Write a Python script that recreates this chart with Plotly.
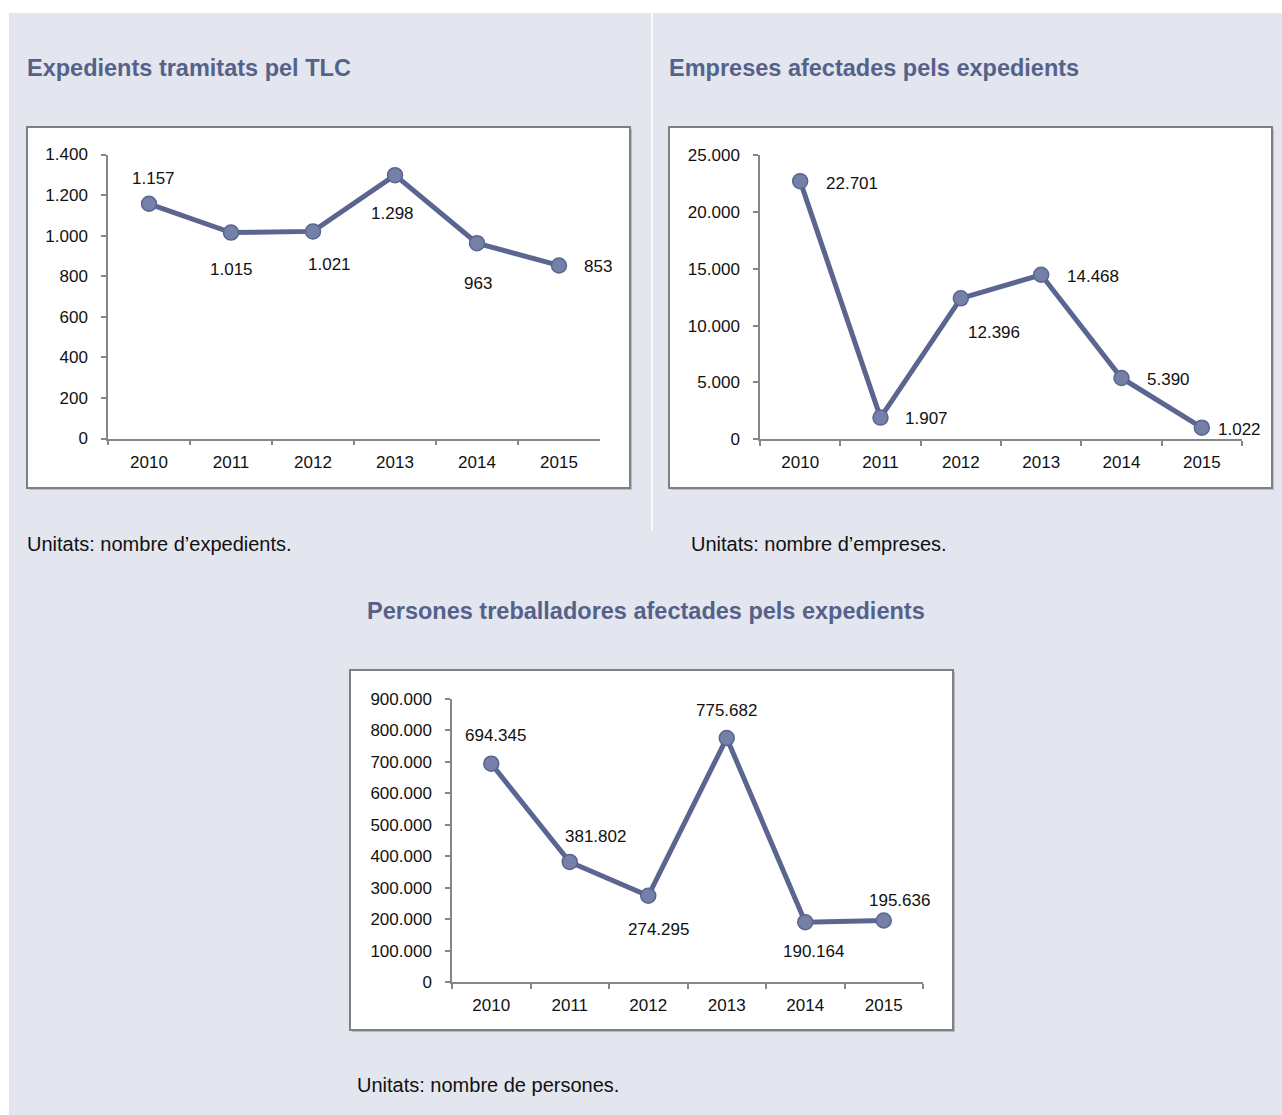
import plotly.graph_objects as go

W, H = 1282, 1115

years = ["2010", "2011", "2012", "2013", "2014", "2015"]
expedients = [1157, 1015, 1021, 1298, 963, 853]
empreses = [22701, 1907, 12396, 14468, 5390, 1022]
persones = [694345, 381802, 274295, 775682, 190164, 195636]

titles = ["Expedients tramitats pel TLC",
          "Empreses afectades pels expedients",
          "Persones treballadores afectades pels expedients"]
captions = ["Unitats: nombre d\u2019expedients.",
            "Unitats: nombre d\u2019empreses.",
            "Unitats: nombre de persones."]
y_max = [1400, 25000, 900000]
y_dtick = [200, 5000, 100000]

# label offsets (pixels) per point: (dx, dy) with dy positive = up
offsets = [
    [(4, 25), (0, -37), (16, -33), (-3, -38), (1, -40), (39, -1)],
    [(52, -2), (46, -1), (33, -34), (52, -2), (47, -2), (38, -2)],
    [(4, 28), (26, 25), (10, -34), (0, 28), (8, -29), (16, 20)],
]

# layout geometry in pixels
plot_px = [  # x0, x1, y_top(max), y_bottom(0)
    (108, 600, 154.5, 438.5),
    (760, 1242, 155, 439.3),
    (452, 923, 699, 982),
]
box_px = [(27, 127, 630, 488), (669, 127, 1272, 488), (350, 670, 953, 1030)]
title_px = [(25, 68, "left"), (667, 68, "left"), (646, 611, "center")]
caption_px = [(25, 544), (689, 544), (355, 1085)]

BG = "#E3E6EE"
TITLE_C = "#56618A"
LINE_C = "#5A6590"
MARK_C = "#7480A8"
AXIS_C = "#868686"
FONT = "Liberation Sans"

def px(x):
    return x / W

def py(y):
    return 1 - y / H

fig = go.Figure()
shapes = []
annotations = []

# white strips and divider
shapes.append(dict(type="rect", xref="paper", yref="paper", x0=0, x1=1, y0=py(13), y1=1,
                   fillcolor="white", line=dict(width=0), layer="below"))
shapes.append(dict(type="rect", xref="paper", yref="paper", x0=0, x1=px(9), y0=0, y1=1,
                   fillcolor="white", line=dict(width=0), layer="below"))
shapes.append(dict(type="line", xref="paper", yref="paper", x0=px(652), x1=px(652),
                   y0=py(13), y1=py(531), line=dict(color="white", width=1.5), layer="below"))

series = [expedients, empreses, persones]
for i in range(3):
    xa = "x" if i == 0 else f"x{i+1}"
    ya = "y" if i == 0 else f"y{i+1}"
    bx0, by0, bx1, by1 = box_px[i]
    shapes.append(dict(type="rect", xref="paper", yref="paper",
                       x0=px(bx0 + 2), x1=px(bx1 + 2), y0=py(by1 + 2), y1=py(by0 + 2),
                       fillcolor="#B9BCC4", line=dict(width=0), layer="below"))
    shapes.append(dict(type="rect", xref="paper", yref="paper",
                       x0=px(bx0), x1=px(bx1), y0=py(by1), y1=py(by0),
                       fillcolor="white", line=dict(color="#808080", width=2), layer="below"))

    vals = series[i]
    fig.add_trace(go.Scatter(
        x=years, y=vals, xaxis=xa, yaxis=ya, mode="lines+markers",
        line=dict(color=LINE_C, width=5),
        marker=dict(size=15, color=MARK_C, line=dict(color=LINE_C, width=1.5)),
        showlegend=False, hoverinfo="skip"))

    for j, v in enumerate(vals):
        dx, dy = offsets[i][j]
        annotations.append(dict(
            x=j, y=v, xref=xa, yref=ya, text=f"{v:,}".replace(",", "."),
            showarrow=False, xshift=dx, yshift=dy,
            font=dict(family=FONT, size=17, color="#111111")))

    x0, x1, ytop, ybot = plot_px[i]
    axkey = "xaxis" if i == 0 else f"xaxis{i+1}"
    aykey = "yaxis" if i == 0 else f"yaxis{i+1}"
    fig.update_layout(**{
        axkey: dict(domain=[px(x0), px(x1)], anchor=ya, type="category",
                    range=[-0.5, 5.5], tickson="boundaries", ticks="outside",
                    ticklen=5, tickcolor=AXIS_C, tickwidth=1.5,
                    showline=True, linecolor=AXIS_C, linewidth=1.5,
                    showgrid=False, zeroline=False, ticklabelstandoff=7,
                    automargin=False,
                    tickfont=dict(family=FONT, size=17, color="#111111"),
                    fixedrange=True),
        aykey: dict(domain=[py(ybot), py(ytop)], anchor=xa,
                    range=[0, y_max[i]], dtick=y_dtick[i], tick0=0,
                    tickformat=",d", ticks="outside", ticklen=5,
                    tickcolor=AXIS_C, tickwidth=1.5,
                    showline=True, linecolor=AXIS_C, linewidth=1.5,
                    showgrid=False, zeroline=False, ticklabelstandoff=10,
                    automargin=False,
                    tickfont=dict(family=FONT, size=17, color="#111111"),
                    fixedrange=True),
    })

    tx, ty, anchor = title_px[i]
    annotations.append(dict(
        x=px(tx), y=py(ty), xref="paper", yref="paper", text=titles[i],
        showarrow=False, xanchor=anchor, yanchor="middle",
        font=dict(family=FONT, size=23.5, color=TITLE_C, weight="bold")))

    cx, cy = caption_px[i]
    annotations.append(dict(
        x=px(cx), y=py(cy), xref="paper", yref="paper", text=captions[i],
        showarrow=False, xanchor="left", yanchor="middle",
        font=dict(family=FONT, size=20, color="#111111")))

fig.update_layout(
    template="none",
    width=W, height=H, margin=dict(l=0, r=0, t=0, b=0, pad=0, autoexpand=False),
    paper_bgcolor=BG, plot_bgcolor="rgba(0,0,0,0)",
    separators=",.", shapes=shapes, annotations=annotations,
    showlegend=False,
)

post = (
    "document.documentElement.style.margin='0';"
    "document.documentElement.style.padding='0';"
    "document.documentElement.style.overflow='hidden';"
    "document.body.style.margin='0';"
    "document.body.style.padding='0';"
    "document.body.style.overflow='hidden';"
    "var d=document.getElementById('{plot_id}');"
    "d.style.position='fixed';d.style.left='0px';d.style.top='0px';"
)

fig.write_html("out.html", config={"displayModeBar": False}, post_script=post)
